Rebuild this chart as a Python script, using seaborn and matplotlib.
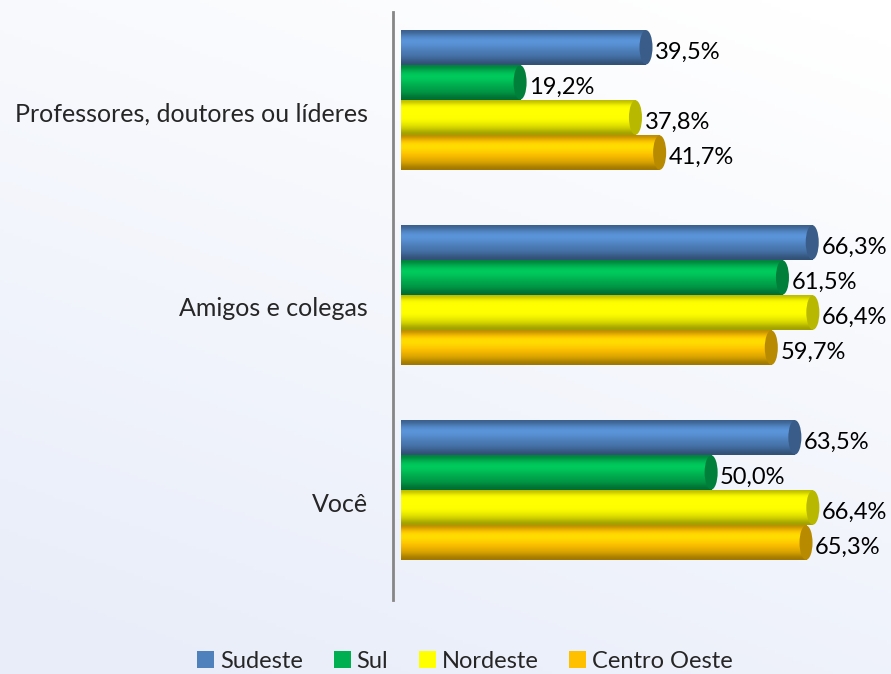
import numpy as np
import pandas as pd
import matplotlib
matplotlib.use("Agg")
import matplotlib.pyplot as plt
import matplotlib.transforms as mtransforms
from matplotlib.patches import Ellipse, Patch
from matplotlib.colors import to_rgb
import seaborn as sns

# dados do grafico
categorias = ["Professores, doutores ou líderes", "Amigos e colegas", "Você"]
regioes = ["Sudeste", "Sul", "Nordeste", "Centro Oeste"]
sudeste = [39.5, 66.3, 63.5]
sul = [19.2, 61.5, 50.0]
nordeste = [37.8, 66.4, 66.4]
centro_oeste = [41.7, 59.7, 65.3]
cores = ["#4F81BD", "#00B050", "#FFFF00", "#FFC000"]

df = pd.DataFrame({
    "Categoria": categorias * 4,
    "Regiao": [r for r in regioes for _ in categorias],
    "Valor": sudeste + sul + nordeste + centro_oeste,
})

sns.set_style("white")
plt.rcParams["font.family"] = ["Lato", "DejaVu Sans"]

fig = plt.figure(figsize=(8.91, 6.74), dpi=100)

# fundo em degrade (branco em cima, azulado embaixo)
bg = fig.add_axes([0, 0, 1, 1], zorder=-1)
gx, gy = np.meshgrid(np.linspace(0, 1, 200), np.linspace(0, 1, 200))
t = np.clip(0.75 * gy + 0.35 * (1 - gx) - 0.05, 0, 1)
c0 = np.array(to_rgb("#FFFFFF"))
c1 = np.array(to_rgb("#E8EDF9"))
img = c0[None, None, :] * (1 - t[..., None]) + c1[None, None, :] * t[..., None]
bg.imshow(img, extent=(0, 1, 0, 1), aspect="auto", origin="upper")
bg.axis("off")

ax = fig.add_axes([393 / 891, 74 / 674, 1 - 393 / 891, 588 / 674])
ax.set_facecolor("none")
sns.barplot(data=df, y="Categoria", x="Valor", hue="Regiao", order=categorias,
            hue_order=regioes, palette=cores, orient="h", width=0.72,
            saturation=1, ax=ax, legend=False)

# efeito cilindro
perfil = np.array([0.72, 1.0, 1.18, 1.12, 1.0, 0.92, 0.82, 0.62])
for cont, cor in zip(ax.containers, cores):
    base = np.array(to_rgb(cor))
    grad = np.clip(base[None, :] * perfil[:, None], 0, 1)[:, None, :]
    for p in cont.patches:
        x0, y0 = p.get_x(), p.get_y()
        w, h = p.get_width(), p.get_height()
        p.set_edgecolor("none")
        im = ax.imshow(grad, extent=(x0, x0 + w, y0 + h, y0), aspect="auto",
                       origin="upper", interpolation="bicubic", zorder=2)
        im.set_clip_path(p)
        cap = Ellipse((x0 + w, y0 + h / 2), width=2.1, height=h * 0.98,
                      facecolor=np.clip(base * 0.72, 0, 1), edgecolor="none",
                      zorder=3)
        ax.add_patch(cap)
        ax.annotate(f"{w:.1f}%".replace(".", ","), (x0 + w, y0 + h / 2),
                    xytext=(6.5, -3.5), textcoords="offset points",
                    ha="left", va="center", fontsize=17, color="#000000",
                    zorder=4)

ax.set_xlim(-1.29, 79.0)
ax.set_ylim(2.564, -0.451)
ax.set_xlabel("")
ax.set_ylabel("")
ax.set_xticks([])
ax.tick_params(axis="y", length=0, pad=18, labelsize=18)
desloc = mtransforms.ScaledTranslation(0, -12 / 100, fig.dpi_scale_trans)
for lbl in ax.get_yticklabels():
    lbl.set_transform(lbl.get_transform() + desloc)
for s in ["top", "right", "bottom"]:
    ax.spines[s].set_visible(False)
ax.spines["left"].set_color("#868686")
ax.spines["left"].set_linewidth(2)

handles = [Patch(facecolor=c, edgecolor="none") for c in cores]
fig.legend(handles, regioes, loc="center", bbox_to_anchor=(0.522, 1 - 661 / 674),
           ncol=4, frameon=False, fontsize=17, handlelength=0.72,
           handleheight=0.72, handletextpad=0.25, columnspacing=1.3)

fig.savefig("out.png", dpi=100)
